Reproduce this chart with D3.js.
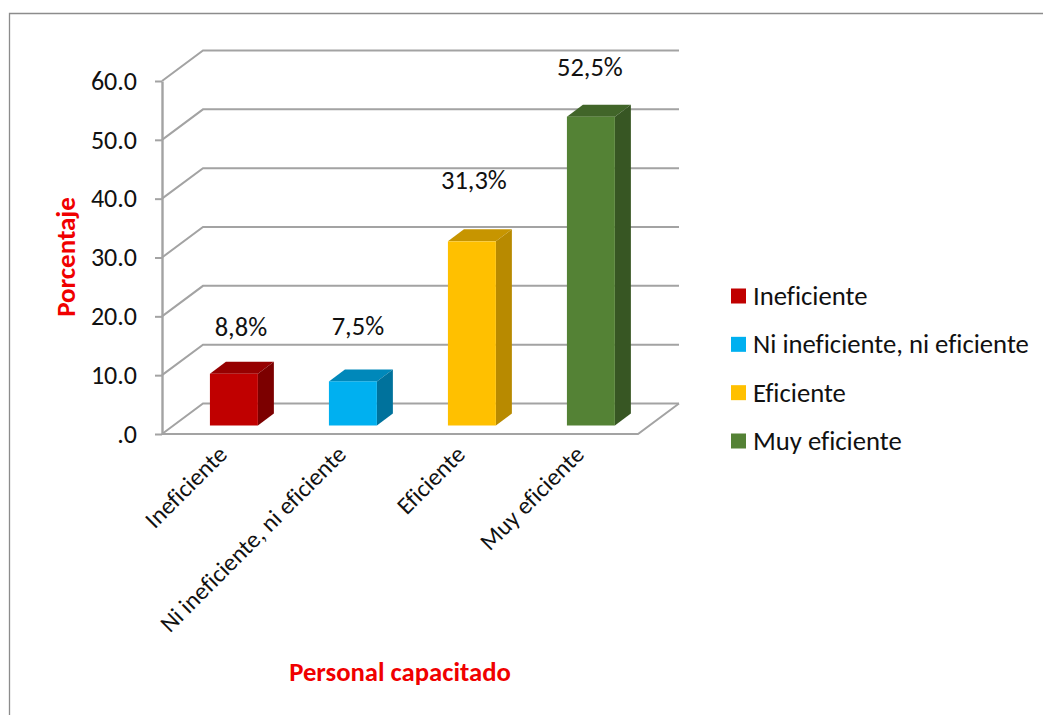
<!DOCTYPE html>
<html><head><meta charset="utf-8">
<script src="https://cdn.jsdelivr.net/npm/d3@7/dist/d3.min.js"></script>
<style>html,body{margin:0;padding:0;background:#fff}svg{display:block}text{font-family:Carlito,Calibri,Lato,sans-serif;fill:#111;font-variant-ligatures:none}</style>
</head><body><svg id="c" width="1043" height="715"></svg>
<script>
const categories=["Ineficiente","Ni ineficiente, ni eficiente","Eficiente","Muy eficiente"];
const values=[8.8,7.5,31.3,52.5];
const valueLabels=["8,8%","7,5%","31,3%","52,5%"];
const yTicks=[0,10,20,30,40,50,60];
const yTickLabels=[".0","10.0","20.0","30.0","40.0","50.0","60.0"];
const frontColors=["#C00000","#00B0F0","#FFC000","#548235"];
const topColors=["#960000","#0088BA","#C79500","#416529"];
const sideColors=["#7C0000","#00729C","#B88A00","#375623"];
const W=1043,H=715,grid="#A3A3A3";
const svg=d3.select("#c");
const x=d3.scaleBand().domain(categories).range([162,638]).paddingInner(0.597).paddingOuter(0.2985);
const y=d3.scaleLinear().domain([0,60]).range([434,81]);
const depth={x:41,y:-30.5},barShift={x:12.4,y:-8.5},barDepth={x:16,y:-12};
const labelLift=[46,54,60,49],labelShift=[0,-2,-5,-8];
const line=d3.line();
svg.append("path").attr("d",line([[9.5,H],[9.5,13.5],[W,13.5]])).attr("fill","none").attr("stroke","#8C8C8C").attr("stroke-width",1.3);
svg.append("g").selectAll("path").data(yTicks).join("path")
 .attr("d",t=>line([[x.range()[0],y(t)],[x.range()[0]+depth.x,y(t)+depth.y],[x.range()[1]+depth.x,y(t)+depth.y]]))
 .attr("fill","none").attr("stroke",grid).attr("stroke-width",2);
svg.append("path").attr("d",line([[x.range()[0],y(0)],[x.range()[1],y(0)],[x.range()[1]+depth.x,y(0)+depth.y]])).attr("fill","none").attr("stroke",grid).attr("stroke-width",2);
const ax=svg.append("g").attr("transform",`translate(${x.range()[0]},0)`).call(d3.axisLeft(y).tickValues(yTicks).tickFormat((d,i)=>yTickLabels[i]).tickSize(7).tickPadding(18).tickSizeOuter(0));
ax.selectAll("path,line").attr("stroke",grid).attr("stroke-width",2);
ax.select("path").attr("stroke-width",2.4);
ax.selectAll("text").attr("font-size",26).attr("fill","#111").style("font-family","Carlito,Calibri,Lato,sans-serif");
const bars=svg.append("g").selectAll("g").data(categories).join("g");
const fx=c=>x(c)+barShift.x, b0=y(0)+barShift.y, ty=i=>y(values[i])+barShift.y;
bars.append("path").attr("fill",(c,i)=>topColors[i]).attr("d",(c,i)=>{const l=fx(c),r=l+x.bandwidth(),t=ty(i);return line([[l,t],[l+barDepth.x,t+barDepth.y],[r+barDepth.x,t+barDepth.y],[r,t]])+"Z"});
bars.append("path").attr("fill",(c,i)=>sideColors[i]).attr("d",(c,i)=>{const r=fx(c)+x.bandwidth(),t=ty(i);return line([[r,t],[r+barDepth.x,t+barDepth.y],[r+barDepth.x,b0+barDepth.y],[r,b0]])+"Z"});
bars.append("rect").attr("fill",(c,i)=>frontColors[i]).attr("x",fx).attr("y",(c,i)=>ty(i)).attr("width",x.bandwidth()).attr("height",(c,i)=>b0-ty(i));
bars.append("text").attr("x",(c,i)=>fx(c)+x.bandwidth()/2+barDepth.x/2-1+labelShift[i]).attr("y",(c,i)=>ty(i)-labelLift[i]+8).attr("text-anchor","middle").attr("font-size",26.5).text((c,i)=>valueLabels[i]);
svg.append("g").selectAll("text").data(categories).join("text")
 .attr("transform",c=>`translate(${x(c)+x.bandwidth()/2+7},${y(0)+22}) rotate(-45)`)
 .attr("text-anchor","end").attr("font-size",24.3).text(c=>c);
svg.append("text").attr("transform","translate(75,257) rotate(-90)").attr("text-anchor","middle").attr("font-size",27).attr("font-weight",700).style("fill","#F00000").text("Porcentaje");
svg.append("text").attr("x",400).attr("y",681).attr("text-anchor","middle").attr("font-size",26.7).attr("font-weight",700).style("fill","#F00000").text("Personal capacitado");
const ly=d3.scalePoint().domain(categories).range([296,441]);
const lg=svg.append("g").selectAll("g").data(categories).join("g").attr("transform",c=>`translate(731,${ly(c)})`);
lg.append("rect").attr("y",-7.5).attr("width",15).attr("height",15).attr("fill",(c,i)=>frontColors[i]);
lg.append("text").attr("x",22).attr("y",9).attr("font-size",26.7).text(c=>c);
</script></body></html>
